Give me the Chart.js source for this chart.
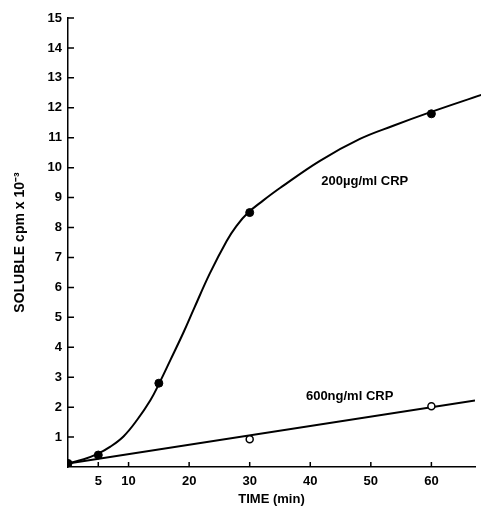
<!DOCTYPE html>
<html>
<head>
<meta charset="utf-8">
<script src="https://cdn.jsdelivr.net/npm/chart.js@4"></script>
<style>
  body { margin: 0; background: #fff; }
</style>
</head>
<body>
<canvas id="crpChart" width="481" height="512"></canvas>
<script>
// measured points (min, cpm x 10^-3)
const timeHigh = [0, 5, 15, 30, 60];
const valHigh = [0.12, 0.4, 2.8, 8.5, 11.8];
const timeLow = [30, 60];
const valLow = [0.93, 2.03];

// hand-drawn curve through the 200ug/ml points
const curveTime = [0, 2.6, 4.8, 7.0, 9.2, 11.4, 13.6, 15.1, 16.9, 19.1, 20.8, 23.4, 26.2, 27.8, 29.75, 32.2, 35.0, 41.6, 48.2, 53.7, 59.5, 68.5];
const curveVal = [0.12, 0.26, 0.43, 0.68, 1.03, 1.57, 2.23, 2.81, 3.57, 4.51, 5.29, 6.46, 7.55, 8.05, 8.5, 8.9, 9.32, 10.23, 10.96, 11.4, 11.83, 12.45];

// straight line for 600ng/ml
const lineTime = [0, 67.2];
const lineVal = [0.12, 2.22];

const xTicks = [5, 10, 20, 30, 40, 50, 60];
const yTicks = [1, 2, 3, 4, 5, 6, 7, 8, 9, 10, 11, 12, 13, 14, 15];

const curveLabels = ['200\u00b5g/ml CRP', '600ng/ml CRP'];
const labelAt = [[49, 9.53], [46.5, 2.37]];

function pts(xs, ys) {
    return xs.map((v, i) => ({x: v, y: ys[i]}));
}

const FONT = '"Liberation Sans", Arial, sans-serif';

const extras = {
    id: 'extras',
    afterDraw(chart) {
        const {ctx, scales: {x, y}} = chart;
        ctx.save();
        ctx.strokeStyle = '#000';
        ctx.lineWidth = 1.5;
        ctx.beginPath();
        y.ticks.forEach(t => {
            const py = y.getPixelForValue(t.value);
            ctx.moveTo(x.left, py);
            ctx.lineTo(x.left + 6, py);
        });
        x.ticks.forEach(t => {
            const px = x.getPixelForValue(t.value);
            ctx.moveTo(px, y.bottom);
            ctx.lineTo(px, y.bottom - 5);
        });
        ctx.stroke();

        ctx.fillStyle = '#000';
        ctx.font = 'bold 13px ' + FONT;
        ctx.textAlign = 'center';
        ctx.textBaseline = 'middle';
        curveLabels.forEach((txt, i) => {
            ctx.fillText(txt, x.getPixelForValue(labelAt[i][0]), y.getPixelForValue(labelAt[i][1]));
        });
        ctx.restore();
    }
};

new Chart(document.getElementById('crpChart'), {
    type: 'scatter',
    data: {
        datasets: [
            {
                data: pts(timeHigh, valHigh),
                pointRadius: 4,
                pointBackgroundColor: '#000',
                pointBorderColor: '#000',
                showLine: false
            },
            {
                data: pts(timeLow, valLow),
                pointRadius: 3.5,
                pointBorderWidth: 1.5,
                pointBackgroundColor: '#fff',
                pointBorderColor: '#000',
                showLine: false
            },
            {
                data: pts(curveTime, curveVal),
                showLine: true,
                pointRadius: 0,
                borderColor: '#000',
                borderWidth: 2,
                tension: 0.4,
                clip: false
            },
            {
                data: pts(lineTime, lineVal),
                showLine: true,
                pointRadius: 0,
                borderColor: '#000',
                borderWidth: 2
            }
        ]
    },
    options: {
        responsive: false,
        animation: false,
        layout: { padding: { left: 0, top: 18, right: 6, bottom: 0 } },
        plugins: {
            legend: { display: false },
            tooltip: { enabled: false }
        },
        scales: {
            x: {
                type: 'linear',
                min: 0,
                max: 67.2,
                afterBuildTicks: s => { s.ticks = xTicks.map(v => ({value: v})); },
                afterFit: s => { s.height = 45; },
                grid: { display: false, drawTicks: false },
                border: { color: '#000', width: 1.5 },
                ticks: {
                    color: '#000',
                    padding: 7,
                    maxRotation: 0,
                    font: { family: FONT, size: 13, weight: 'bold' }
                },
                title: {
                    display: true,
                    text: 'TIME (min)',
                    color: '#000',
                    padding: { top: 0, bottom: 5 },
                    font: { family: FONT, size: 13, weight: 'bold' }
                }
            },
            y: {
                min: 0,
                max: 15,
                afterBuildTicks: s => { s.ticks = yTicks.map(v => ({value: v})); },
                afterFit: s => { s.width = 68; },
                grid: { display: false, drawTicks: false },
                border: { color: '#000', width: 1.5 },
                ticks: {
                    color: '#000',
                    padding: 6,
                    font: { family: FONT, size: 13, weight: 'bold' }
                },
                title: {
                    display: true,
                    text: 'SOLUBLE cpm x 10\u207b\u00b3',
                    color: '#000',
                    padding: { top: 12, bottom: 0 },
                    font: { family: FONT, size: 14, weight: 'bold' }
                }
            }
        }
    },
    plugins: [extras]
});
</script>
</body>
</html>
